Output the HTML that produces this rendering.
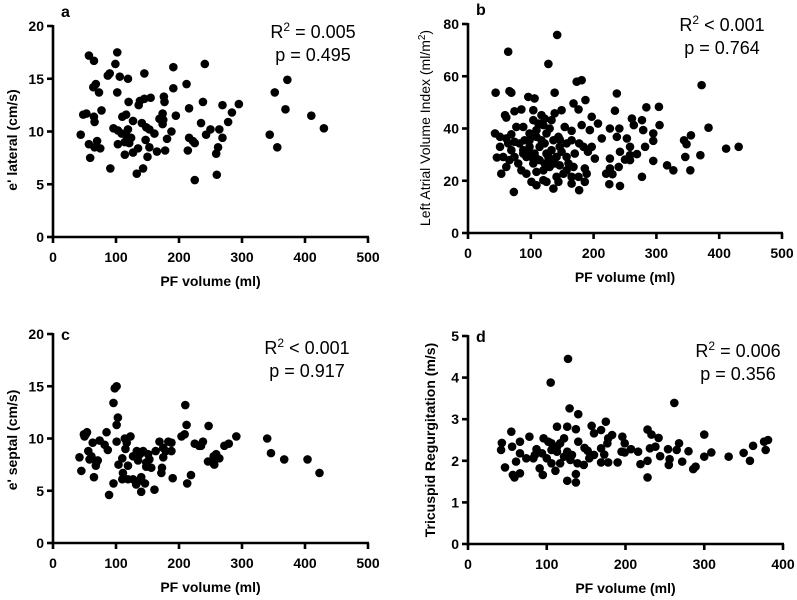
<!DOCTYPE html>
<html><head><meta charset="utf-8"><style>
html,body{margin:0;padding:0;background:#fff;}
svg{display:block;font-family:"Liberation Sans",Arial,sans-serif;}
</style></head><body>
<svg id="chart" width="797" height="600" viewBox="0 0 797 600"></svg>
<script>
const xTicksAC = [0,100,200,300,400,500];
const xTicksB = [0,100,200,300,400,500];
const xTicksD = [0,100,200,300,400];
const yTicksA = [0,5,10,15,20];
const yTicksB = [0,20,40,60,80];
const yTicksC = [0,5,10,15,20];
const yTicksD = [0,1,2,3,4,5];

const aX = [57,65,102,99,191,241,87,90,106,119,145,68,64,73,102,212,191,176,155,138,145,120,177,238,136,269,295,77,216,284,48,53,116,110,174,195,65,66,169,175,127,141,174,278,235,96,103,119,148,153,161,188,250,264,44,109,116,124,243,216,269,181,70,147,222,57,103,114,121,225,66,75,153,135,262,214,178,165,127,114,150,259,59,91,143,133,260,225,344,356,352,372,369,410,430];
const aY = [17.2,16.7,17.5,16.4,16.1,16.4,15.3,15.5,15.2,15.0,15.5,14.5,14.2,13.7,13.7,14.5,14.1,13.3,13.2,12.9,13.1,12.8,12.8,12.8,12.5,12.5,12.6,12.0,12.2,11.8,11.6,11.7,11.6,11.4,11.7,11.5,11.4,10.9,11.2,11.1,11.0,10.8,10.7,10.9,10.8,10.3,10.1,10.2,10.4,10.2,9.8,10.0,10.2,10.2,9.7,9.8,9.7,9.4,9.7,9.4,9.4,9.3,9.1,9.2,9.1,8.8,8.8,9.0,8.9,8.9,8.5,8.4,8.5,8.4,8.5,8.2,8.2,8.1,8.0,7.8,7.6,7.9,7.5,6.5,6.5,6.0,5.9,5.4,9.7,8.5,13.7,14.9,12.1,11.5,10.3];

const bX = [44,64,66,69,142,128,138,237,372,173,181,96,106,59,61,74,85,104,117,138,149,168,187,176,197,234,284,304,261,277,264,305,383,43,51,61,69,77,88,98,109,120,130,144,154,165,181,194,207,213,226,241,237,253,279,295,295,282,258,242,226,258,269,250,240,258,317,327,344,348,355,346,370,354,411,431,295,277,242,225,230,220,226,202,197,191,186,189,186,177,165,165,176,168,160,157,170,177,184,73,53,61,56,46,66,74,80,85,93,101,109,120,125,136,141,144,152,157,130,120,109,104,93,88,82,90,98,106,114,122,125,133,141,146,136,128,114,122,138,146,109,98,117,125,112,104,122,133,133,109,101,69,64,74,146,149,157,165,51,88,96];
const bY = [53.7,69.4,54.3,53.7,75.8,64.7,53.7,53.4,56.6,57.9,58.5,52.1,51.5,45.1,44.2,46.6,47.3,47.0,45.1,45.8,47.0,49.6,50.9,47.3,44.5,46.8,48.1,48.3,43.8,43.2,41.3,41.3,40.3,38.1,36.8,36.2,37.8,40.6,40.6,38.1,39.4,41.3,40.0,36.8,40.6,39.1,41.3,39.4,41.9,36.2,40.0,40.0,36.8,36.2,39.4,38.1,35.3,33.0,33.0,31.1,28.5,29.8,30.2,28.1,25.3,27.9,25.9,24.0,35.5,34.0,37.4,29.1,29.8,24.0,32.3,33.0,27.6,21.5,18.0,18.7,22.5,22.7,24.7,28.5,33.0,31.1,24.7,22.7,19.6,16.4,18.9,21.5,21.5,25.3,26.6,29.1,30.4,34.3,33.0,15.7,22.7,25.3,29.1,28.9,27.9,29.1,26.6,24.0,22.7,19.6,18.3,20.2,19.6,17.0,21.5,19.6,22.7,24.0,25.3,24.0,23.4,26.6,29.1,31.7,34.3,35.5,33.0,30.4,33.0,34.3,30.4,31.7,29.1,33.0,35.5,29.1,27.9,26.6,26.6,25.9,36.8,35.5,35.5,38.1,41.9,43.2,43.8,43.2,27.2,28.5,29.1,31.7,34.3,34.9,35.8,31.1,34.3,35.5,33.0,30.4,31.7];

const cX = [101,98,96,103,101,210,212,247,50,54,49,85,101,63,74,82,87,114,123,117,115,110,104,127,135,138,143,151,153,148,156,148,133,119,169,175,183,188,188,175,179,173,172,163,204,209,225,232,238,235,246,254,255,259,264,256,272,279,291,340,346,367,404,423,42,45,56,58,61,69,71,68,65,96,89,111,110,119,127,135,140,132,146,140,161,190,213,219,52];
const cY = [15.0,14.8,13.4,12.0,11.3,13.2,11.3,11.2,10.2,10.6,10.4,10.6,9.7,9.6,9.8,9.4,8.9,10.0,10.2,9.6,9.0,8.1,7.5,8.3,7.9,8.5,8.8,8.5,8.0,7.3,7.2,7.7,8.8,7.4,9.7,9.1,9.7,9.6,8.8,8.2,8.8,7.2,6.7,8.8,10.2,10.4,9.5,9.3,9.7,9.3,7.8,7.7,8.3,8.5,8.1,7.5,9.3,9.5,10.2,10.0,8.6,8.0,8.0,6.7,8.2,6.9,8.8,8.0,8.3,7.7,7.9,7.4,6.3,5.7,4.6,6.7,6.1,6.1,6.1,5.9,6.3,5.6,5.7,4.9,5.1,6.2,5.7,6.5,10.4];

const dX = [127,105,262,129,140,175,157,113,126,137,160,169,183,196,228,233,242,300,55,43,42,56,66,78,87,96,102,106,117,122,140,148,152,154,169,173,177,178,199,199,207,216,219,228,228,231,238,244,254,256,255,265,268,272,280,286,289,300,309,331,350,358,362,376,381,378,47,57,59,66,61,66,74,83,91,95,111,126,137,137,147,100,106,117,122,130,139,94,113,126,132,169,178,190,195,160,106,113,85];
const dY = [4.45,3.88,3.39,3.26,3.12,2.94,2.84,2.82,2.82,2.76,2.66,2.74,2.62,2.58,2.75,2.63,2.55,2.63,2.70,2.43,2.26,2.34,2.46,2.58,2.28,2.54,2.46,2.26,2.42,2.54,2.46,2.31,2.24,2.06,2.30,2.15,2.42,2.54,2.42,2.20,2.28,2.22,1.92,2.00,1.60,2.30,2.34,2.11,2.28,2.04,1.90,2.26,2.42,1.98,2.23,1.80,1.86,2.10,2.20,2.10,2.19,2.00,2.36,2.46,2.50,2.26,1.84,1.66,1.60,1.70,1.98,2.18,2.06,2.06,1.82,1.66,1.76,1.52,1.48,1.68,1.90,2.06,1.94,1.94,2.10,2.02,1.94,2.18,2.22,2.22,2.14,1.96,1.96,1.96,2.22,2.14,2.42,2.34,2.14];

const NS = 'http://www.w3.org/2000/svg';
const svg = document.getElementById('chart');
function mk(tag, attrs, parent, text){
  const e = document.createElementNS(NS, tag);
  for (const k in attrs) e.setAttribute(k, attrs[k]);
  if (text !== undefined) e.textContent = text;
  (parent || svg).appendChild(e);
  return e;
}

function panel(o){
  const g = mk('g', {});
  
  
  const xmax = o.xt[o.xt.length-1], ymax = o.yt[o.yt.length-1];
  const sx = v => o.x0 + (v / xmax) * (o.x1 - o.x0);
  const sy = v => o.y0 - (v / ymax) * (o.y0 - o.y1);
  const pts = mk('g', {fill:'#000'}, g);
  
  
  for (let i = 0; i < o.xs.length; i++){
    const c = mk('circle', {cx: sx(o.xs[i]), cy: sy(o.ys[i]), r: 4.3}, pts);
    
    
  }
  const ax = mk('g', {stroke:'#000', 'stroke-width':2.6, fill:'none'}, g);
  
  
  mk('line', {x1:o.x0, y1:o.y0, x2:o.x1+1, y2:o.y0}, ax);
  mk('line', {x1:o.x0, y1:o.y0+1.3, x2:o.x0, y2:o.y1-1}, ax);
  const tx = mk('g', {'font-size':14, 'font-weight':'bold', 'text-anchor':'middle'}, g);
  
  
  o.xt.forEach(v => {
    mk('line', {x1:sx(v), y1:o.y0, x2:sx(v), y2:o.y0+6}, ax);
    mk('text', {x:sx(v), y:o.y0+25}, tx, String(v));
  });
  const ty = mk('g', {'font-size':14, 'font-weight':'bold', 'text-anchor':'end'}, g);
  
  
  o.yt.forEach(v => {
    mk('line', {x1:o.x0-6, y1:sy(v), x2:o.x0, y2:sy(v)}, ax);
    mk('text', {x:o.x0-9, y:sy(v)+5}, ty, String(v));
  });
  const xt = mk('text', {x:(o.x0+o.x1)/2, y:o.y0+49, 'font-size':14, 'font-weight':'bold', 'text-anchor':'middle'}, g, 'PF volume (ml)');
  
  
  const yt = mk('text', {x:0, y:0, 'font-size':14, 'font-weight':o.ybold?'bold':'normal', 'text-anchor':'middle', transform:'translate(' + o.ytx + ',' + o.yty + ') rotate(-90)'}, g);
  yt.innerHTML = o.ytitle;
  
  
  const lt = mk('text', {x:o.x0+8, y:o.y1-9+o.ldy, 'font-size':16, 'font-weight':'bold'}, g, o.id);
  
  
  const st = mk('g', {'font-size':18, 'text-anchor':'middle'}, g);
  
  
  const r = mk('text', {x:o.sx, y:o.sy}, st);
  r.innerHTML = 'R<tspan dy="-7" font-size="12">2</tspan><tspan dy="7"> ' + o.r2 + '</tspan>';
  mk('text', {x:o.sx, y:o.sy+23}, st, o.p);
}

panel({id:'a', x0:53, x1:368, y0:237, y1:26, xt:xTicksAC, yt:yTicksA, xs:aX, ys:aY,
  ytitle:"e' lateral (cm/s)", ybold:true, ytx:17, yty:140, ldy:0, sx:313, sy:38, r2:'= 0.005', p:'p = 0.495'});
panel({id:'b', x0:468, x1:782, y0:233, y1:24, xt:xTicksB, yt:yTicksB, xs:bX, ys:bY,
  ytitle:'Left Atrial Volume Index (ml/m<tspan dy="-5" font-size="10">2</tspan><tspan dy="5">)</tspan>', ybold:false, ytx:430, yty:128, ldy:0, sx:722, sy:31, r2:'&lt; 0.001', p:'p = 0.764'});
panel({id:'c', x0:53, x1:368, y0:543, y1:334, xt:xTicksAC, yt:yTicksC, xs:cX, ys:cY,
  ytitle:"e' septal (cm/s)", ybold:true, ytx:17, yty:440, ldy:15, sx:307, sy:354, r2:'&lt; 0.001', p:'p = 0.917'});
panel({id:'d', x0:468, x1:783, y0:544, y1:336, xt:xTicksD, yt:yTicksD, xs:dX, ys:dY,
  ytitle:'Tricuspid Regurgitation (m/s)', ybold:true, ytx:435, yty:440, ldy:15, sx:738, sy:357, r2:'= 0.006', p:'p = 0.356'});
</script>
</body></html>
